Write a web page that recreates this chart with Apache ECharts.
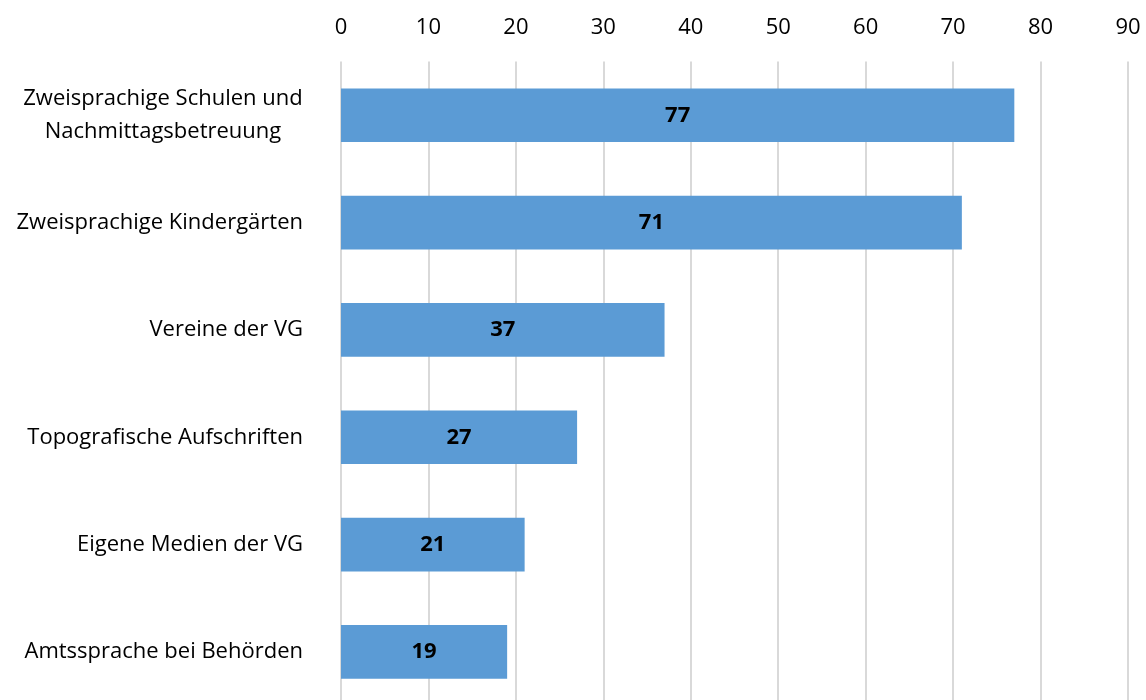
<!DOCTYPE html>
<html>
<head>
<meta charset="utf-8">
<script src="https://cdn.jsdelivr.net/npm/echarts@6/dist/echarts.min.js"></script>
<style>
  html, body { margin: 0; padding: 0; background: #fff; }
  #chart { width: 1146px; height: 700px; }
</style>
</head>
<body>
<div id="chart"></div>
<script>
// Kategorien (von oben nach unten)
var categories = [
  "Zweisprachige Schulen und\nNachmittagsbetreuung",
  "Zweisprachige Kindergärten",
  "Vereine der VG",
  "Topografische Aufschriften",
  "Eigene Medien der VG",
  "Amtssprache bei Behörden"
];
var values = [77, 71, 37, 27, 21, 19];
var tickMax = 90;
var tickStep = 10;

var myChart = echarts.init(document.getElementById("chart"));
var font = "'Open Sans', sans-serif";

// zweizeilige Beschriftung zentriert, Block trotzdem rechtsbündig
var yData = categories.map(function (c) {
  if (c.indexOf("\n") < 0) return c;
  return {
    value: c,
    textStyle: { align: "center", padding: [0, 280, 0, 0] }
  };
});

var option = {
  animation: false,
  grid: {
    left: 341,
    right: 18,
    top: 61.6,
    height: 644,
    outerBoundsMode: "none"
  },
  xAxis: {
    type: "value",
    position: "top",
    min: 0,
    max: tickMax,
    interval: tickStep,
    axisLine: { show: false },
    axisTick: { show: false },
    axisLabel: {
      color: "#000",
      fontSize: 22,
      fontFamily: font,
      margin: 23
    },
    splitLine: {
      show: true,
      lineStyle: { color: "#d9d9d9", width: 2 }
    }
  },
  yAxis: {
    type: "category",
    inverse: true,
    data: yData,
    axisLine: { show: false },
    axisTick: { show: false },
    axisLabel: {
      color: "#000",
      fontSize: 22,
      fontFamily: font,
      margin: 38,
      align: "right",
      lineHeight: 33
    }
  },
  series: [
    {
      type: "bar",
      data: values,
      barWidth: "50%",
      itemStyle: { color: "#5b9bd5" },
      label: {
        show: true,
        position: "inside",
        color: "#000",
        fontWeight: "bold",
        fontSize: 22,
        fontFamily: font
      }
    }
  ]
};
option && myChart.setOption(option);
</script>
</body>
</html>
